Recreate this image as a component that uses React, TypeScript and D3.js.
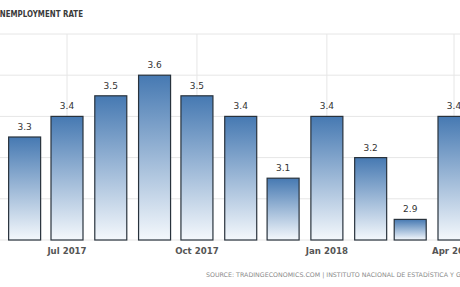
import React from "react";
import * as d3 from "d3";

const months: string[] = ["2017-06", "2017-07", "2017-08", "2017-09", "2017-10", "2017-11", "2017-12", "2018-01", "2018-02", "2018-03", "2018-04"];
const values: number[] = [3.3, 3.4, 3.5, 3.6, 3.5, 3.4, 3.1, 3.4, 3.2, 2.9, 3.4];
const tickDates: string[] = ["2017-07", "2017-10", "2018-01", "2018-04"];
const tickLabels: string[] = ["Jul 2017", "Oct 2017", "Jan 2018", "Apr 2018"];
const yTicks: number[] = [2.8, 3.0, 3.2, 3.4, 3.6, 3.8];
const title = "UNEMPLOYMENT RATE";
const source = "SOURCE: TRADINGECONOMICS.COM | INSTITUTO NACIONAL DE ESTADÍSTICA Y GEOGRAFÍA (INEGI)";

const W = 460;
const H = 287;
const parse = d3.timeParse("%Y-%m");

export default function App() {
  const x = d3
    .scaleTime()
    .domain([parse("2017-07")!, parse("2018-04")!])
    .range([67, 454]);
  const y = d3.scaleLinear().domain([2.8, 3.8]).range([240, 34]);
  const bw = 32;
  const font = "'DejaVu Sans', Verdana, sans-serif";

  return (
    <svg
      width={W}
      height={H}
      style={{ position: "absolute", left: 0, top: 0, background: "#fff" }}
      fontFamily={font}
    >
      <defs>
        <linearGradient id="barGrad" x1="0" y1="0" x2="0" y2="1">
          <stop offset="0%" stopColor="#4679b2" />
          <stop offset="100%" stopColor="#f4f8fc" />
        </linearGradient>
      </defs>
      <text
        x={-6}
        y={17}
        fontSize={8.4}
        fontWeight="bold"
        fill="#3a3a3a"
        textLength={89}
        lengthAdjust="spacingAndGlyphs"
      >
        {title}
      </text>
      {yTicks.map((t) => (
        <line key={t} x1={0} x2={W} y1={y(t)} y2={y(t)} stroke="#e6e6e6" strokeWidth={1} />
      ))}
      {tickDates.map((d) => (
        <line key={d} x1={x(parse(d)!)} x2={x(parse(d)!)} y1={y(3.8)} y2={y(2.8)} stroke="#e6e6e6" strokeWidth={1} />
      ))}
      {months.map((m, i) => {
        const cx = x(parse(m)!);
        const top = y(values[i]);
        return (
          <g key={m}>
            <rect
              x={cx - bw / 2}
              y={top}
              width={bw}
              height={y(2.8) - top}
              fill="url(#barGrad)"
              stroke="#28323c"
              strokeWidth={1.2}
            />
            <text x={cx} y={top - 7} textAnchor="middle" fontSize={9} fill="#333">
              {values[i].toFixed(1)}
            </text>
          </g>
        );
      })}
      {tickDates.map((d, i) => (
        <text key={d} x={x(parse(d)!)} y={254} textAnchor="middle" fontSize={8.6} fontWeight="bold" fill="#555">
          {tickLabels[i]}
        </text>
      ))}
      <text x={206} y={277} fontSize={6.3} fill="#8a8a8a">
        {source}
      </text>
    </svg>
  );
}
